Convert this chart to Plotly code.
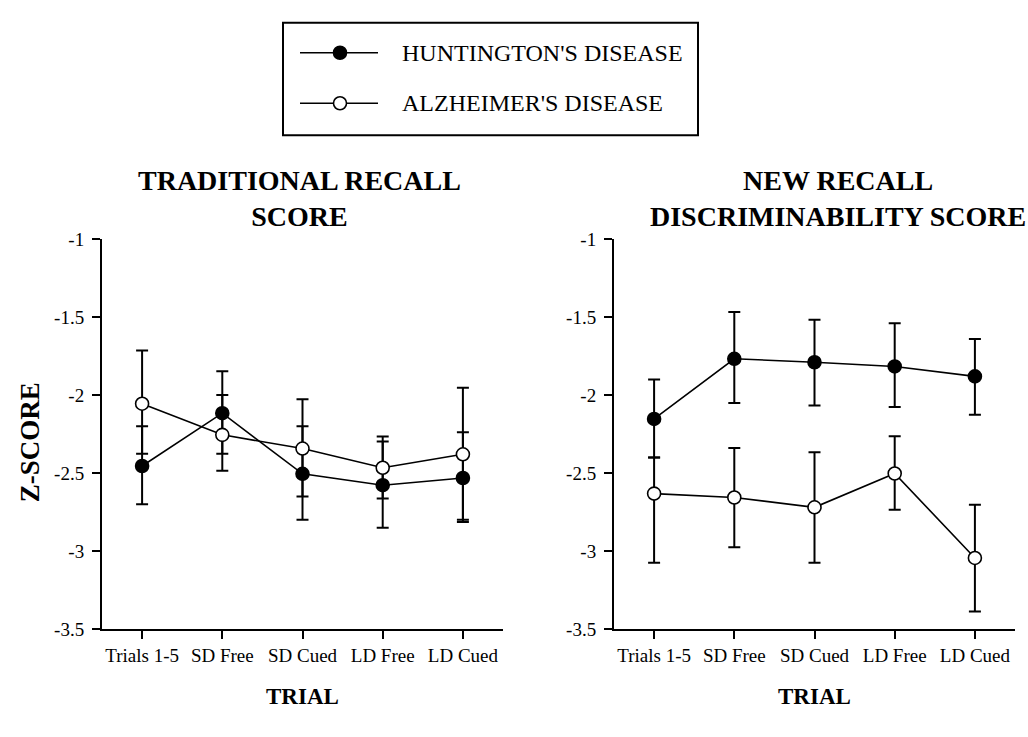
import plotly.graph_objects as go

# ---- data ----
categories = ["Trials 1-5", "SD Free", "SD Cued", "LD Free", "LD Cued"]
series_names = ["HUNTINGTON'S DISEASE", "ALZHEIMER'S DISEASE"]
panel_titles = ["TRADITIONAL RECALL<br>SCORE", "NEW RECALL<br>DISCRIMINABILITY SCORE"]
y_ticks = [-1, -1.5, -2, -2.5, -3, -3.5]
y_tick_labels = ["-1", "-1.5", "-2", "-2.5", "-3", "-3.5"]

# Traditional recall score
trad_hd_mean = [-2.455, -2.116, -2.505, -2.578, -2.532]
trad_hd_upper = [-2.20, -1.847, -2.20, -2.297, -2.239]
trad_hd_lower = [-2.70, -2.376, -2.80, -2.851, -2.814]
trad_ad_mean = [-2.055, -2.255, -2.343, -2.466, -2.380]
trad_ad_upper = [-1.714, -2.00, -2.026, -2.266, -1.953]
trad_ad_lower = [-2.376, -2.486, -2.651, -2.664, -2.800]

# New recall discriminability score
disc_hd_mean = [-2.153, -1.767, -1.789, -1.816, -1.880]
disc_hd_upper = [-1.90, -1.466, -1.516, -1.539, -1.640]
disc_hd_lower = [-2.40, -2.050, -2.066, -2.076, -2.126]
disc_ad_mean = [-2.632, -2.657, -2.720, -2.503, -3.045]
disc_ad_upper = [-2.40, -2.339, -2.366, -2.264, -2.703]
disc_ad_lower = [-3.076, -2.976, -3.076, -2.736, -3.389]

# ---- layout helpers ----
W, H = 1028, 737
FONT = "Liberation Serif, Times New Roman, serif"


def px_x(p):
    return p / W


def px_y(p):
    return 1 - p / H


fig = go.Figure()

panels = [
    ("x", "y", [(trad_hd_mean, trad_hd_upper, trad_hd_lower), (trad_ad_mean, trad_ad_upper, trad_ad_lower)]),
    ("x2", "y2", [(disc_hd_mean, disc_hd_upper, disc_hd_lower), (disc_ad_mean, disc_ad_upper, disc_ad_lower)]),
]
fills = ["black", "white"]

for xa, ya, groups in panels:
    for (mean, up, lo), name, fill in zip(groups, series_names, fills):
        fig.add_trace(go.Scatter(
            x=categories, y=mean, xaxis=xa, yaxis=ya, name=name,
            mode="lines+markers", showlegend=False,
            line=dict(color="black", width=1.6),
            marker=dict(size=13, color=fill, line=dict(color="black", width=1.6)),
            error_y=dict(type="data", symmetric=False,
                         array=[u - m for u, m in zip(up, mean)],
                         arrayminus=[m - l for m, l in zip(mean, lo)],
                         color="black", thickness=2, width=6),
        ))

x_domains = [[px_x(102), px_x(503)], [px_x(614), px_x(1015)]]
y_domain = [px_y(637), px_y(236)]

axis_common = dict(showline=True, linecolor="black", linewidth=2, ticks="outside",
                   ticklen=8, tickwidth=2, tickcolor="black", showgrid=False, zeroline=False,
                   tickfont=dict(family=FONT, size=19, color="black"))

for i, (xd) in enumerate(x_domains):
    sfx = "" if i == 0 else str(i + 1)
    fig.update_layout(**{
        "xaxis" + sfx: dict(axis_common, domain=xd, anchor="y" + sfx, type="category",
                            categoryorder="array", categoryarray=categories,
                            range=[-0.5, 4.5]),
        "yaxis" + sfx: dict(axis_common, domain=y_domain, anchor="x" + sfx,
                            range=[-3.5, -1], tickvals=y_ticks, ticktext=y_tick_labels,
                            ticklabelstandoff=4),
    })

annotations = []
title_centers = [299, 838]
axis_centers = [302, 814]
for c, txt in zip(title_centers, panel_titles):
    annotations.append(dict(x=px_x(c), y=px_y(194), xref="paper", yref="paper",
                            text="<b>" + txt + "</b>", showarrow=False,
                            xanchor="center", yanchor="middle",
                            font=dict(family=FONT, size=28, color="black")))
for c in axis_centers:
    annotations.append(dict(x=px_x(c), y=px_y(707), xref="paper", yref="paper",
                            text="<b>TRIAL</b>", showarrow=False,
                            xanchor="center", yanchor="middle",
                            font=dict(family=FONT, size=23, color="black")))
annotations.append(dict(x=px_x(30), y=px_y(445), xref="paper", yref="paper",
                        text="<b>Z-SCORE</b>", showarrow=False, textangle=-90,
                        xanchor="center", yanchor="middle",
                        font=dict(family=FONT, size=27, color="black")))

# ---- legend box (custom, like the original) ----
shapes = [dict(type="rect", xref="paper", yref="paper",
               x0=px_x(283), x1=px_x(698), y0=px_y(129), y1=px_y(13),
               line=dict(color="black", width=2), fillcolor="white")]
for ypx, name, fill in zip([44, 96], series_names, fills):
    shapes.append(dict(type="line", xref="paper", yref="paper",
                       x0=px_x(300), x1=px_x(378), y0=px_y(ypx), y1=px_y(ypx),
                       line=dict(color="black", width=1.6)))
    shapes.append(dict(type="circle", xref="paper", yref="paper",
                       xsizemode="pixel", ysizemode="pixel",
                       xanchor=px_x(340), yanchor=px_y(ypx),
                       x0=-6.5, x1=6.5, y0=-6.5, y1=6.5,
                       fillcolor=fill, line=dict(color="black", width=1.6)))
    annotations.append(dict(x=px_x(400), y=px_y(ypx), xref="paper", yref="paper",
                            text=name, showarrow=False, xanchor="left", yanchor="middle",
                            font=dict(family=FONT, size=24, color="black")))

fig.update_layout(width=W, height=H, margin=dict(l=0, r=0, t=0, b=0),
                  paper_bgcolor="white", plot_bgcolor="white",
                  annotations=annotations, shapes=shapes, showlegend=False)

fig.write_html("out.html", config={"displayModeBar": False},
               post_script="document.body.style.margin='0px';document.body.style.overflow='hidden';")
